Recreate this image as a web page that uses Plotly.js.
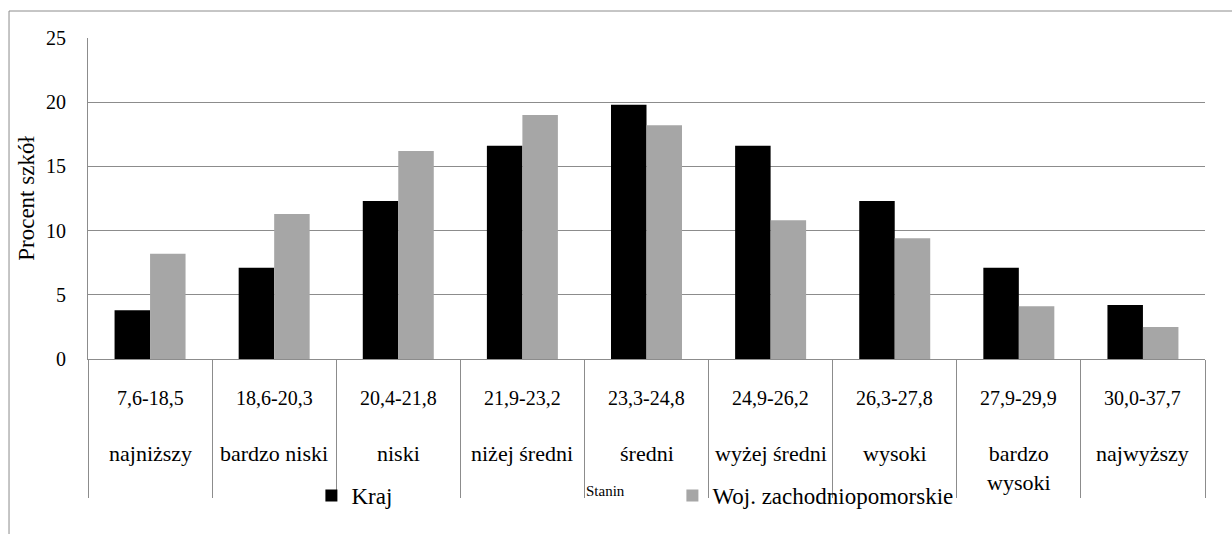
<!DOCTYPE html>
<html>
<head>
<meta charset="utf-8">
<script src="https://cdn.plot.ly/plotly-3.0.1.min.js"></script>
<style>html,body{margin:0;padding:0;background:#fff;}</style>
</head>
<body>
<div id="chart" style="width:1232px;height:534px"></div>
<script>
const ranges = ["7,6-18,5","18,6-20,3","20,4-21,8","21,9-23,2","23,3-24,8","24,9-26,2","26,3-27,8","27,9-29,9","30,0-37,7"];
const levels = ["najniższy","bardzo niski","niski","niżej średni","średni","wyżej średni","wysoki","bardzo<br>wysoki","najwyższy"];
const kraj = [3.8, 7.1, 12.3, 16.6, 19.8, 16.6, 12.3, 7.1, 4.2];
const woj = [8.2, 11.3, 16.2, 19.0, 18.2, 10.8, 9.4, 4.1, 2.5];
const seriesNames = ["Kraj", "Woj. zachodniopomorskie"];
const yTitle = "Procent szkół";
const xTitle = "Stanin";

const FONT = "Times New Roman";
const GRAY = "#8c8c8c";

const traces = [
  {type:"bar", name:seriesNames[0], x:ranges, y:kraj, marker:{color:"#000000"}},
  {type:"bar", name:seriesNames[1], x:ranges, y:woj, marker:{color:"#a6a6a6"}}
];

const annotations = [];
ranges.forEach((r,i)=>{
  annotations.push({xref:"x", yref:"paper", x:r, y:0, yanchor:"middle", yshift:-39, text:r, showarrow:false, font:{family:FONT,size:20,color:"#000"}});
  annotations.push({xref:"x", yref:"paper", x:r, y:0, yanchor:"top", yshift:-80, text:levels[i], showarrow:false, font:{family:FONT,size:22,color:"#000"}});
});
annotations.push({xref:"paper", yref:"paper", x:0.463, y:0, yanchor:"middle", yshift:-132, text:xTitle, showarrow:false, font:{family:FONT,size:15,color:"#000"}});

const layout = {
  width:1232, height:534,
  margin:{l:88, r:27, t:38, b:175},
  paper_bgcolor:"#fff", plot_bgcolor:"#fff",
  font:{family:FONT, size:20, color:"#000"},
  barmode:"group", bargap:0.428, bargroupgap:0,
  showlegend:true,
  legend:{orientation:"h", x:0.2, xanchor:"left", y:-0.425, yanchor:"middle", font:{family:FONT,size:23,color:"#000"}, entrywidth:316, entrywidthmode:"pixels", bgcolor:"rgba(0,0,0,0)", traceorder:"normal"},
  xaxis:{type:"category", showticklabels:false, tickson:"boundaries", ticks:"outside", ticklen:138, tickcolor:GRAY, tickwidth:1, showline:true, linecolor:GRAY, linewidth:1, showgrid:false, zeroline:false},
  yaxis:{range:[0,25], dtick:5, tick0:0, showgrid:true, gridcolor:GRAY, gridwidth:1, showline:true, linecolor:GRAY, linewidth:1, zeroline:true, zerolinecolor:GRAY, ticks:"", ticklabelstandoff:17, tickfont:{family:FONT,size:20,color:"#000"}, title:{text:yTitle, font:{family:FONT,size:23,color:"#000"}, standoff:4}},
  annotations: annotations,
  shapes:[{type:"rect", xref:"paper", yref:"paper", x0:-0.0707, x1:1.2, y0:-1, y1:1.0841, line:{color:GRAY,width:1}, fillcolor:"rgba(0,0,0,0)", layer:"below"}]
};

Plotly.newPlot("chart", traces, layout, {displayModeBar:false});
</script>
</body>
</html>
